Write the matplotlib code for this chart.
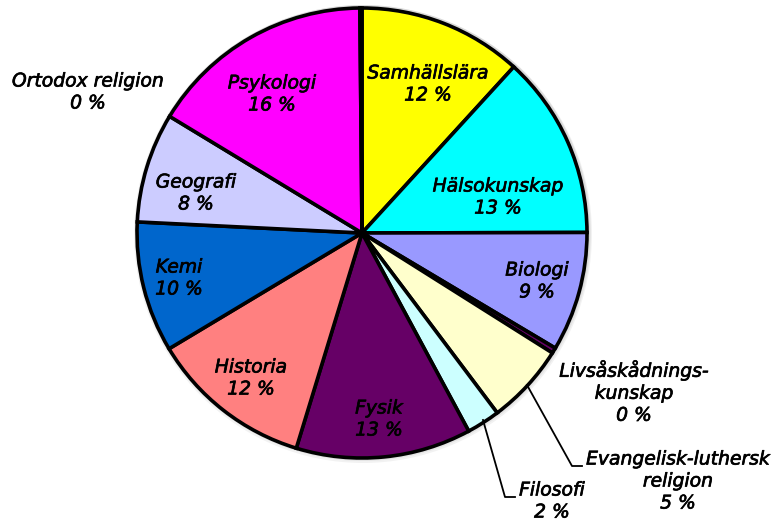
import matplotlib
matplotlib.use("Agg")
import matplotlib.pyplot as plt
from matplotlib.patches import Circle
import matplotlib.patheffects as pe

subjects = ["Samhällslära", "Hälsokunskap", "Biologi", "Livsåskådnings-\nkunskap",
            "Evangelisk-luthersk\nreligion", "Filosofi", "Fysik", "Historia", "Kemi",
            "Geografi", "Psykologi", "Ortodox religion"]
shares = [11.8, 13.2, 8.6, 0.4, 5.8, 2.4, 12.6, 11.7, 9.4, 7.9, 16.2, 0.15]
pct_labels = ["12 %", "13 %", "9 %", "0 %", "5 %", "2 %", "13 %", "12 %", "10 %", "8 %", "16 %", "0 %"]
colors = ["#FFFF00", "#00FFFF", "#9999FF", "#660066", "#FFFFCC", "#CCFFFF",
          "#660066", "#FF8080", "#0066CC", "#CCCCFF", "#FF00FF", "#993366"]

W, H = 774, 525
fig = plt.figure(figsize=(W / 100, H / 100), dpi=100)
ax = fig.add_axes([0, 0, 1, 1])

cx, cy, r = 362, H - 233, 225
for i in range(3):
    ax.add_patch(Circle((cx + 1, cy + 1 - i), r + 2 + i, color="black", alpha=0.05, lw=0, zorder=0))

ax.pie(shares, colors=colors, startangle=90, counterclock=False, center=(cx, cy),
       radius=r, wedgeprops=dict(edgecolor="black", linewidth=2.6), frame=True)
ax.set_xlim(0, W)
ax.set_ylim(0, H)
ax.set_aspect("equal")
ax.axis("off")

# label layout (pixel positions of text centers, from top)
label_pos = [(428, 84), (498, 197), (537, 281), (634, 392), (678, 481), (552, 501),
             (379, 419), (251, 378), (179, 278), (196, 193), (272, 94), (88, 92)]
font = dict(family="DejaVu Sans", style="italic", fontsize=13.5, color="black")
for name, pct, (x, y) in zip(subjects, pct_labels, label_pos):
    t = ax.text(x, H - y, name + "\n" + pct, ha="center", va="center", linespacing=1.2, **font)
    t.set_path_effects([pe.withStroke(linewidth=0.5, foreground="black")])

# leader lines
ax.plot([527, 572, 582], [H - 385, H - 466, H - 466], color="black", lw=1.3)
ax.plot([483, 505, 515], [H - 420, H - 497, H - 497], color="black", lw=1.3)

fig.savefig("out.png", dpi=100)
